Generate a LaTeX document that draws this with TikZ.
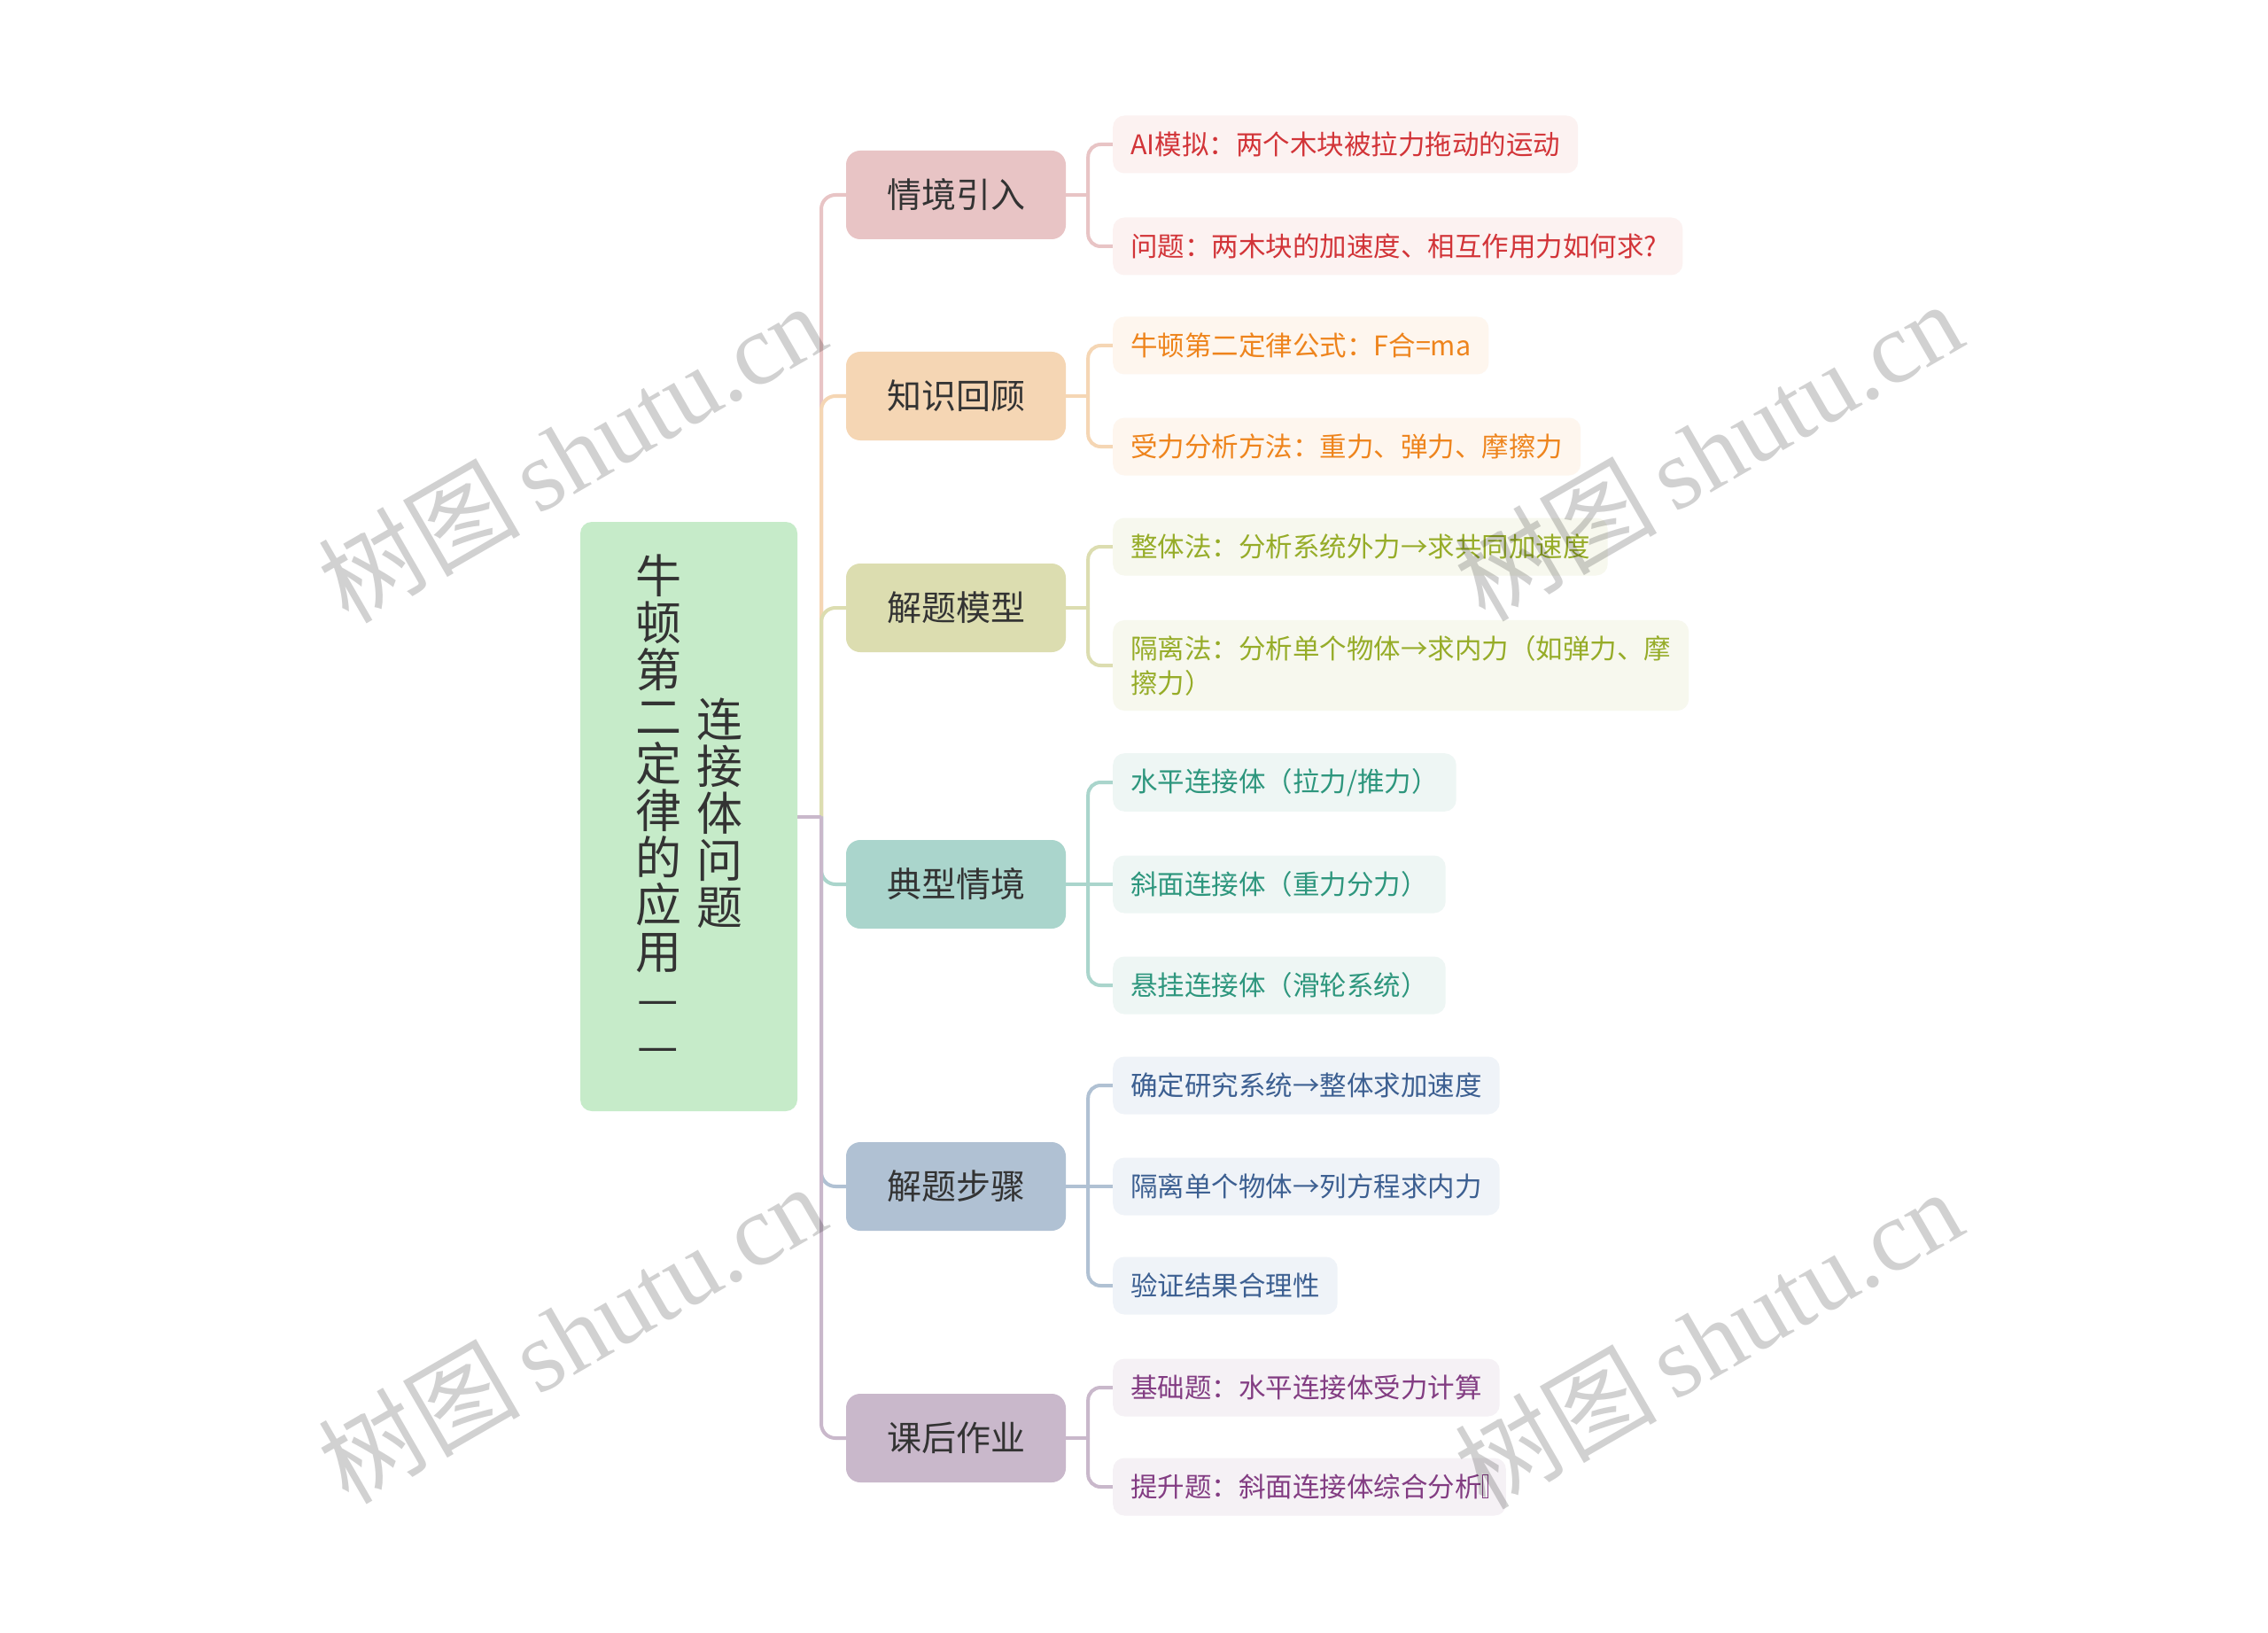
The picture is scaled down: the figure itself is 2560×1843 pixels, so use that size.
\documentclass[tikz,border=0pt]{standalone}
\usepackage{fontspec}
\setmainfont{Noto Sans CJK SC}
\newfontfamily\wmserif{Liberation Serif}
\newfontfamily\wmcjk{Noto Sans CJK SC}
\usetikzlibrary{calc}
\pgfdeclarelayer{bg}
\pgfdeclarelayer{conn}
\pgfsetlayers{bg,conn,main}

\definecolor{textdark}{RGB}{51,51,51}
\definecolor{rootfill}{RGB}{198,235,201}
% branch fills / lines
\definecolor{cA}{RGB}{232,196,197}
\definecolor{cB}{RGB}{245,214,180}
\definecolor{cC}{RGB}{220,221,176}
\definecolor{cD}{RGB}{170,213,204}
\definecolor{cE}{RGB}{176,193,211}
\definecolor{cF}{RGB}{201,184,203}
% leaf fills
\definecolor{lA}{RGB}{252,242,241}
\definecolor{lB}{RGB}{254,246,238}
\definecolor{lC}{RGB}{247,248,238}
\definecolor{lD}{RGB}{238,246,244}
\definecolor{lE}{RGB}{239,243,248}
\definecolor{lF}{RGB}{245,241,245}
% leaf texts
\definecolor{tA}{RGB}{210,52,56}
\definecolor{tB}{RGB}{238,132,28}
\definecolor{tC}{RGB}{150,172,40}
\definecolor{tD}{RGB}{45,150,125}
\definecolor{tE}{RGB}{60,95,145}
\definecolor{tF}{RGB}{130,60,130}

\newcommand\tofubox{{\setlength\fboxsep{0pt}\setlength\fboxrule{1.3pt}\fbox{\rule{0pt}{0.8em}\hspace{0.15em}}}}

\tikzset{
  rootbox/.style={fill=rootfill, rounded corners=13pt, minimum width=245pt, minimum height=665pt, inner sep=0pt},
  coltext/.style={align=center, text=textdark, font=\fontsize{52}{53}\selectfont, inner sep=0pt},
  branchbox/.style={rounded corners=16pt, minimum width=248pt, minimum height=100pt, inner sep=0pt, text=textdark, font=\fontsize{39}{47}\selectfont},
  leafbox/.style={rounded corners=13pt, minimum height=65pt, inner xsep=20pt, inner ysep=17pt, anchor=west, align=left, font=\fontsize{30.5}{39}\selectfont},
  conn/.style={line width=4pt, rounded corners=16pt},
  lconn/.style={line width=4pt, rounded corners=14pt},
  wmark/.style={rotate=30, text=black, text opacity=0.18, inner sep=0pt}
}

\begin{document}
\begin{tikzpicture}[x=1pt,y=-1pt]
\useasboundingbox (0,0) rectangle (2560,1843);
\begin{pgfonlayer}{bg}
\fill[white] (0,0) rectangle (2560,1843);
\end{pgfonlayer}

% root
\node[rootbox] (root) at (777.5,921.5) {};
\node[coltext] (col1) at (743,913) {牛\\顿\\第\\二\\定\\律\\的\\应\\用\\—\\—};
\node[coltext] (col2) at (812,918) {连\\接\\体\\问\\题};

% branches
\node[branchbox, fill=cA] (b1) at (1079,220) {情境引入};
\node[branchbox, fill=cB] (b2) at (1079,447) {知识回顾};
\node[branchbox, fill=cC] (b3) at (1079,686) {解题模型};
\node[branchbox, fill=cD] (b4) at (1079,998) {典型情境};
\node[branchbox, fill=cE] (b5) at (1079,1339) {解题步骤};
\node[branchbox, fill=cF] (b6) at (1079,1623) {课后作业};

% leaves
\node[leafbox, fill=lA, text=tA] (l11) at (1256,163) {AI模拟：两个木块被拉力拖动的运动};
\node[leafbox, fill=lA, text=tA] (l12) at (1256,278) {问题：两木块的加速度、相互作用力如何求?\hspace{0.3em}};
\node[leafbox, fill=lB, text=tB] (l21) at (1256,390) {牛顿第二定律公式：F合=ma};
\node[leafbox, fill=lB, text=tB] (l22) at (1256,504) {受力分析方法：重力、弹力、摩擦力};
\node[leafbox, fill=lC, text=tC] (l31) at (1256,617) {整体法：分析系统外力→求共同加速度};
\node[leafbox, fill=lC, text=tC] (l32) at (1256,751) {隔离法：分析单个物体→求内力（如弹力、摩\\擦力）};
\node[leafbox, fill=lD, text=tD] (l41) at (1256,883) {水平连接体（拉力/推力）};
\node[leafbox, fill=lD, text=tD] (l42) at (1256,998) {斜面连接体（重力分力）};
\node[leafbox, fill=lD, text=tD] (l43) at (1256,1112) {悬挂连接体（滑轮系统）};
\node[leafbox, fill=lE, text=tE] (l51) at (1256,1225) {确定研究系统→整体求加速度};
\node[leafbox, fill=lE, text=tE] (l52) at (1256,1339) {隔离单个物体→列方程求内力};
\node[leafbox, fill=lE, text=tE] (l53) at (1256,1451) {验证结果合理性};
\node[leafbox, fill=lF, text=tF] (l61) at (1256,1566) {基础题：水平连接体受力计算};
\node[leafbox, fill=lF, text=tF] (l62) at (1256,1678) {提升题：斜面连接体综合分析\tofubox};

% connectors
\begin{pgfonlayer}{conn}
\coordinate (trunk) at (927,921.5);
\draw[conn, cA] (trunk) |- (b1.west);
\draw[conn, cB] (trunk) |- (b2.west);
\draw[conn, cC] (trunk) |- (b3.west);
\draw[conn, cD] (trunk) |- (b4.west);
\draw[conn, cE] (trunk) |- (b5.west);
\draw[conn, cF] (trunk) |- (b6.west);
\draw[conn, cF] (root.east) -- (trunk);

\coordinate (k1) at ($(b1.east)+(25,0)$);
\draw[lconn, cA] (b1.east) -- (k1);
\draw[lconn, cA] (k1) |- (l11.west);
\draw[lconn, cA] (k1) |- (l12.west);

\coordinate (k2) at ($(b2.east)+(25,0)$);
\draw[lconn, cB] (b2.east) -- (k2);
\draw[lconn, cB] (k2) |- (l21.west);
\draw[lconn, cB] (k2) |- (l22.west);

\coordinate (k3) at ($(b3.east)+(25,0)$);
\draw[lconn, cC] (b3.east) -- (k3);
\draw[lconn, cC] (k3) |- (l31.west);
\draw[lconn, cC] (k3) |- (l32.west);

\coordinate (k4) at ($(b4.east)+(25,0)$);
\draw[lconn, cD] (b4.east) -- (l42.west);
\draw[lconn, cD] (k4) |- (l41.west);
\draw[lconn, cD] (k4) |- (l43.west);

\coordinate (k5) at ($(b5.east)+(25,0)$);
\draw[lconn, cE] (b5.east) -- (l52.west);
\draw[lconn, cE] (k5) |- (l51.west);
\draw[lconn, cE] (k5) |- (l53.west);

\coordinate (k6) at ($(b6.east)+(25,0)$);
\draw[lconn, cF] (b6.east) -- (k6);
\draw[lconn, cF] (k6) |- (l61.west);
\draw[lconn, cF] (k6) |- (l62.west);
\end{pgfonlayer}

% watermarks
\node[wmark] (wm1) at (645,510) {\fontsize{114}{124}\selectfont\wmcjk 树图\,\wmserif shutu.cn};
\node[wmark] (wm2) at (1928,508) {\fontsize{114}{124}\selectfont\wmcjk 树图\,\wmserif shutu.cn};
\node[wmark] (wm3) at (645,1504) {\fontsize{114}{124}\selectfont\wmcjk 树图\,\wmserif shutu.cn};
\node[wmark] (wm4) at (1928,1510) {\fontsize{114}{124}\selectfont\wmcjk 树图\,\wmserif shutu.cn};
\end{tikzpicture}
\end{document}
